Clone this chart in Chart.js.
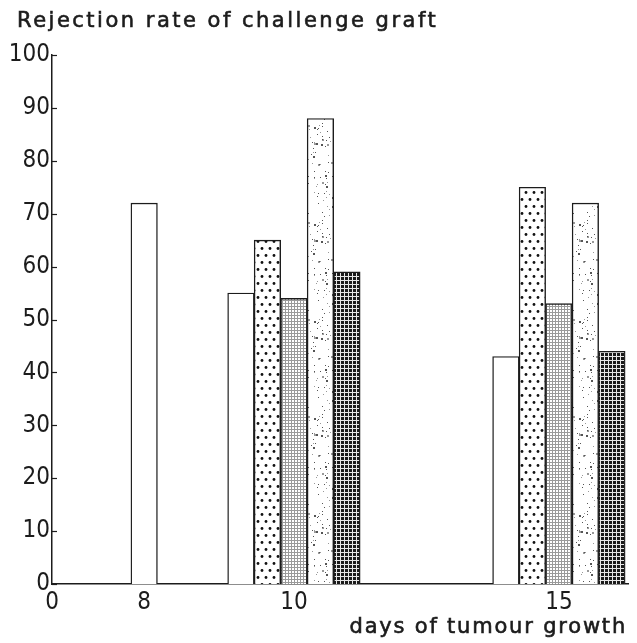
<!DOCTYPE html>
<html>
<head>
<meta charset="utf-8">
<script src="https://cdn.jsdelivr.net/npm/chart.js@4/dist/chart.umd.min.js"></script>
<style>
  body { margin: 0; background: #fff; }
  #wrap { width: 637px; height: 643px; }
</style>
</head>
<body>
<div id="wrap"><canvas id="chart" width="637" height="643"></canvas></div>
<script>
// Data (rejection rate, %)
const days = ['8', '10', '15'];
const plain = [72, 55, 43];
const dotted = [null, 65, 75];
const fineGrid = [null, 54, 53];
const speckled = [null, 88, 72];
const darkGrid = [null, 59, 44];
const yMax = 100;
const yStep = 10;

// Layout: the day labels are not spaced to scale in the original,
// so they sit on slots of a category axis
const slotCount = 51;
const daySlot = [8, 21, 44];

const ink = '#1c1c1c';
const tickFont = { family: '"Liberation Sans Narrow", "DejaVu Sans Condensed", "DejaVu Sans", sans-serif', size: 24 };

// Build the category labels and the per-slot data
const labels = new Array(slotCount).fill('');
labels[0] = '0';
daySlot.forEach((s, i) => labels[s] = days[i]);

function spread(values) {
  const arr = new Array(slotCount).fill(null);
  daySlot.forEach((s, i) => arr[s] = values[i]);
  return arr;
}

// Fill patterns
function makeTile(w, h, draw) {
  const c = document.createElement('canvas');
  c.width = w; c.height = h;
  const g = c.getContext('2d');
  g.fillStyle = '#fff';
  g.fillRect(0, 0, w, h);
  draw(g);
  return document.getElementById('chart').getContext('2d').createPattern(c, 'repeat');
}

const dotPattern = makeTile(8, 14, g => {
  g.fillStyle = '#111';
  g.beginPath(); g.arc(2, 3.5, 1.4, 0, Math.PI * 2); g.fill();
  g.beginPath(); g.arc(6, 10.5, 1.4, 0, Math.PI * 2); g.fill();
});

const finePattern = makeTile(3, 3, g => {
  g.fillStyle = '#9a9a9a';
  g.fillRect(0, 0, 3, 1);
  g.fillRect(0, 0, 1, 3);
});

// speckle texture: scattered specks from a fixed hash (texture only)
function hash(n) {
  const v = Math.sin(n * 12.9898) * 43758.5453;
  return v - Math.floor(v);
}
const specklePattern = makeTile(53, 97, g => {
  for (let i = 0; i < 150; i++) {
    const x = Math.floor(hash(i + 1) * 53);
    const y = Math.floor(hash(i + 501) * 97);
    const s = hash(i + 901) > 0.7 ? 2 : 1;
    g.fillStyle = hash(i + 1301) > 0.5 ? '#555' : '#999';
    g.fillRect(x, y, s, s);
  }
});

const darkPattern = makeTile(4, 4, g => {
  g.fillStyle = '#1a1a1a';
  g.fillRect(0, 0, 4, 4);
  g.fillStyle = '#e8e8e8';
  g.fillRect(0, 0, 4, 1);
  g.fillRect(0, 0, 1, 4);
});

function series(values, fill) {
  return {
    data: spread(values),
    backgroundColor: fill,
    borderColor: ink,
    borderWidth: 1.4,
    barThickness: 26.5,
    skipNull: true
  };
}

// Title texts drawn with letter spacing like the original lettering,
// plus the small inward tick marks on the y axis
const textPlugin = {
  id: 'texts',
  afterDraw(chart) {
    const ctx = chart.ctx;
    const y = chart.scales.y;
    ctx.save();
    ctx.strokeStyle = ink;
    ctx.lineWidth = 1.2;
    y.ticks.forEach(t => {
      const py = Math.round(y.getPixelForValue(t.value)) + 0.5;
      ctx.beginPath();
      ctx.moveTo(y.right, py);
      ctx.lineTo(y.right + 5, py);
      ctx.stroke();
    });
    ctx.fillStyle = ink;
    ctx.lineWidth = 0.6;
    ctx.font = '21px "DejaVu Sans", sans-serif';
    ctx.letterSpacing = '2.5px';
    ctx.textBaseline = 'middle';
    ctx.textAlign = 'left';
    ctx.fillText('Rejection rate of challenge graft', 17, 22);
    ctx.strokeText('Rejection rate of challenge graft', 17, 22);
    ctx.letterSpacing = '1.8px';
    ctx.textAlign = 'right';
    ctx.fillText('days of tumour growth', 627, 628);
    ctx.strokeText('days of tumour growth', 627, 628);
    ctx.restore();
  }
};

new Chart(document.getElementById('chart'), {
  type: 'bar',
  data: {
    labels: labels,
    datasets: [
      series(plain, '#fff'),
      series(dotted, dotPattern),
      series(fineGrid, finePattern),
      series(speckled, specklePattern),
      series(darkGrid, darkPattern)
    ]
  },
  options: {
    responsive: false,
    animation: false,
    layout: { padding: { top: 55, right: 9, left: 0, bottom: 0 } },
    plugins: {
      legend: { display: false },
      tooltip: { enabled: false }
    },
    scales: {
      x: {
        offset: false,
        grid: { display: false, drawTicks: false },
        border: { display: true, color: ink, width: 1.5 },
        ticks: {
          autoSkip: false,
          maxRotation: 0,
          padding: 4,
          color: ink,
          font: tickFont
        },
        afterFit(scale) { scale.height = 59; }
      },
      y: {
        min: 0,
        max: yMax,
        grid: { display: false, drawTicks: false },
        border: { display: true, color: ink, width: 1.5 },
        ticks: {
          stepSize: yStep,
          padding: 2,
          color: ink,
          font: tickFont
        },
        afterFit(scale) { scale.width = 52; }
      }
    }
  },
  plugins: [textPlugin]
});
</script>
</body>
</html>
